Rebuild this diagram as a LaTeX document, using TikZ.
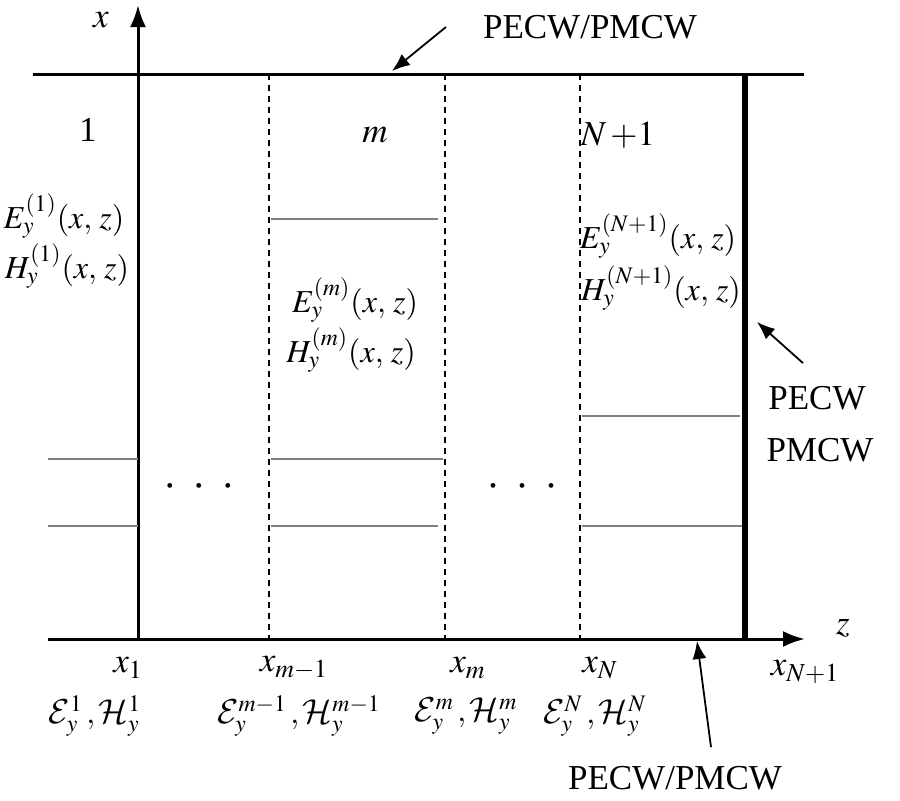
\documentclass[tikz,border=0pt]{standalone}
\usepackage{mathptmx}
\usepackage{fontspec}
\setmainfont{Liberation Serif}
\usetikzlibrary{arrows.meta, positioning}
\DeclareMathAlphabet{\mathcalcm}{OMS}{cmsy}{m}{n}

\begin{document}
\begin{tikzpicture}[x=.5pt, y=-.5pt, font=\fontsize{17.5}{21}\selectfont,
  wall/.style={line width=1.5pt},
  iface/.style={line width=.6pt, dash pattern=on 3pt off 2.5pt},
  layer/.style={gray, line width=.6pt},
  ptr/.style={line width=.9pt, -{Latex[length=9pt, width=7pt]}},
  field/.style={font=\fontsize{16}{19}\selectfont},
  dots/.style={font=\fontsize{10}{10}\selectfont}]
\useasboundingbox (0,0) rectangle (900,800);
\def\ytop{74}
\def\ybot{639}

% axes and walls
\draw[wall, -{Latex[length=11pt, width=8pt]}] (138,\ybot) -- (138,5);
\draw[wall, -{Latex[length=11pt, width=8pt]}] (48,\ybot) -- (805,\ybot);
\draw[wall] (33,\ytop) -- (804,\ytop);
\draw[line width=2.6pt] (745,\ytop) -- (745,\ybot);

% interfaces
\foreach \z in {269, 445, 580}
  \draw[iface] (\z,\ytop) -- (\z,\ybot);

% layers
\draw[layer] (48,459) -- (138,459);
\draw[layer] (48,526) -- (138,526);
\draw[layer] (271,219) -- (438,219);
\draw[layer] (271,459) -- (443,459);
\draw[layer] (271,526) -- (438,526);
\draw[layer] (582,416) -- (740,416);
\draw[layer] (582,526) -- (742,526);

\node[dots] (dotsA) at (199,488) {\textbullet\hspace{11pt}\textbullet\hspace{11pt}\textbullet};
\node[dots] (dotsB) at (522,488) {\textbullet\hspace{11pt}\textbullet\hspace{11pt}\textbullet};

% axis labels
\node (xlbl) at (101,20) {$x$};
\node (zlbl) at (843,628) {$z$};

% regions
\node (reg1) at (88,130) {1};
\node (regm) at (375,135) {$m$};
\node (regN) at (618,135) {$N\,{+}1$};
\node[field] (E1) at (64,216) {$E_y^{(1)}(x,\,z)$};
\node[field] (H1) at (67,266) {$H_y^{(1)}(x,\,z)$};
\node[field] (Em) at (355,300) {$E_y^{(m)}(x,\,z)$};
\node[field] (Hm) at (351,350) {$H_y^{(m)}(x,\,z)$};
\node[field] (EN) at (658,236) {$E_y^{(N+1)}(x,\,z)$};
\node[field] (HN) at (661,288) {$H_y^{(N+1)}(x,\,z)$};

% interface labels
\node (x1) at (128,668) {$x_1$};
\node (xm1) at (294,668) {$x_{m-1}$};
\node (xm) at (468,668) {$x_m$};
\node (xN) at (600,668) {$x_N$};
\node (xN1) at (805,672) {$x_{N+1}$};
\node[field] (F1) at (95,716) {$\mathcalcm{E}_y^1\,,\mathcalcm{H}_y^1$};
\node[field] (Fm1) at (299,716) {$\mathcalcm{E}_y^{m-1}\,,\mathcalcm{H}_y^{m-1}$};
\node[field] (Fm) at (466,716) {$\mathcalcm{E}_y^m\,,\mathcalcm{H}_y^m$};
\node[field] (FN) at (595,716) {$\mathcalcm{E}_y^N\,,\mathcalcm{H}_y^N$};

% boundary walls
\node (toplbl) at (590,27) {PECW/PMCW};
\node (pecw) at (817,398) {PECW};
\node (pmcw) at (820,450) {PMCW};
\node (botlbl) at (675,778) {PECW/PMCW};
\coordinate (topwall) at (392,71);
\coordinate (rgtwall) at (757,322);
\coordinate (botwall) at (697,641);
\draw[ptr] ([xshift=-15pt]toplbl.west) -- (topwall);
\draw[ptr] ([shift={(-7pt,8pt)}]pecw.north) -- (rgtwall);
\draw[ptr] ([shift={(18pt,6pt)}]botlbl.north) -- (botwall);

\end{tikzpicture}
\end{document}
